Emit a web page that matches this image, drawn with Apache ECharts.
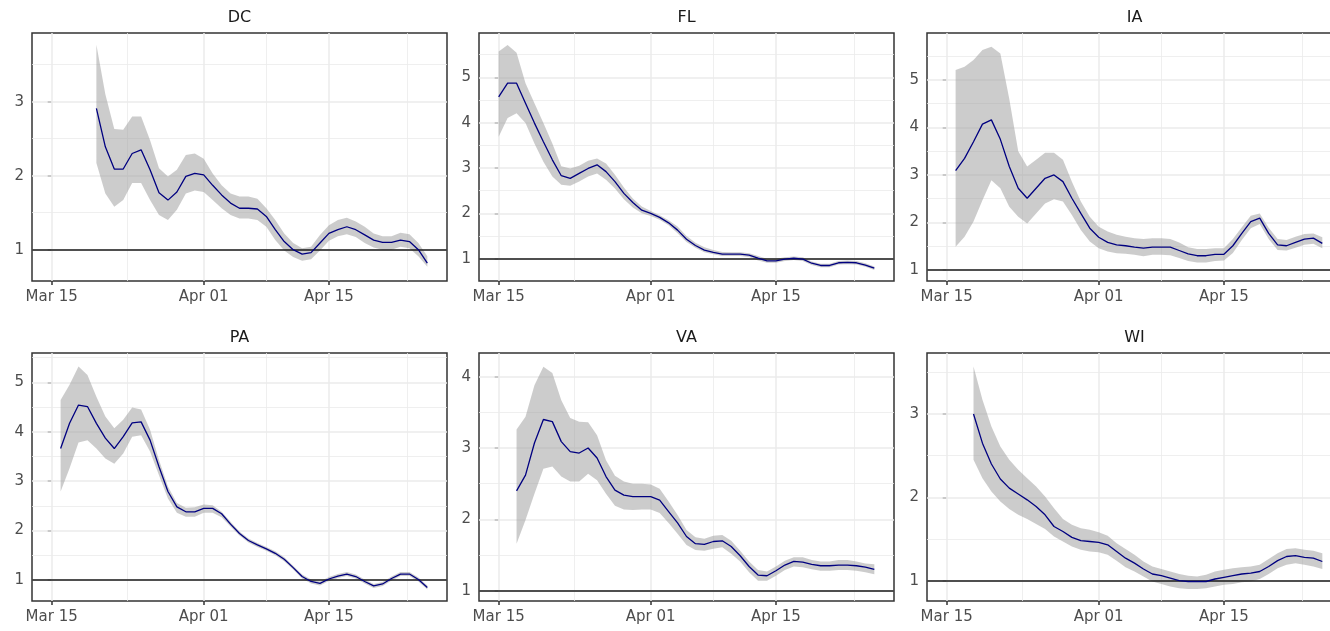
<!DOCTYPE html>
<html>
<head>
<meta charset="utf-8">
<script src="https://cdn.jsdelivr.net/npm/echarts@6/dist/echarts.min.js"></script>
<style>
    html, body { margin: 0; padding: 0; background: #fff; }
    #main { width: 1330px; height: 631px; }
</style>
</head>
<body>
<div id="main"></div>
<script>
// facets, first day of each series counted in days after Mar 15
var states = ['DC', 'FL', 'IA', 'PA', 'VA', 'WI'];
var startDay = [5, 0, 1, 1, 2, 3];

// x axis breaks (days after Mar 15)
var xTickDays = [0, 17, 31];
var xTickLabels = ['Mar 15', 'Apr 01', 'Apr 15'];
var xMinorDays = [8.5, 24, 39.7];

// DC
var dcMean = [2.91, 2.39, 2.09, 2.09, 2.30, 2.35, 2.08, 1.77, 1.67, 1.78, 1.99, 2.03, 2.01, 1.87, 1.74, 1.63, 1.56, 1.56, 1.55, 1.45, 1.27, 1.11, 1.00, 0.94, 0.96, 1.09, 1.22, 1.27, 1.31, 1.27, 1.20, 1.13, 1.10, 1.10, 1.13, 1.11, 1.00, 0.82];
var dcUpper = [3.77, 3.10, 2.63, 2.62, 2.80, 2.80, 2.48, 2.10, 1.99, 2.08, 2.28, 2.30, 2.23, 2.03, 1.87, 1.76, 1.72, 1.72, 1.69, 1.56, 1.40, 1.22, 1.09, 1.02, 1.04, 1.20, 1.33, 1.40, 1.43, 1.38, 1.31, 1.22, 1.18, 1.18, 1.23, 1.21, 1.09, 0.91];
var dcLower = [2.17, 1.76, 1.58, 1.67, 1.90, 1.90, 1.67, 1.47, 1.40, 1.54, 1.76, 1.80, 1.78, 1.67, 1.56, 1.47, 1.42, 1.42, 1.40, 1.31, 1.13, 0.99, 0.90, 0.85, 0.87, 0.99, 1.12, 1.18, 1.21, 1.17, 1.09, 1.03, 1.00, 1.00, 1.04, 1.02, 0.91, 0.77];
var dcTicks = [1, 2, 3];
var dcMinor = [1.5, 2.5, 3.5];

// FL
var flMean = [4.57, 4.87, 4.87, 4.43, 3.99, 3.58, 3.18, 2.83, 2.77, 2.88, 2.99, 3.07, 2.92, 2.70, 2.44, 2.24, 2.07, 2.00, 1.91, 1.79, 1.63, 1.43, 1.29, 1.19, 1.14, 1.10, 1.10, 1.10, 1.08, 1.01, 0.95, 0.95, 0.99, 1.01, 0.99, 0.90, 0.85, 0.85, 0.91, 0.92, 0.91, 0.86, 0.79];
var flUpper = [5.57, 5.71, 5.54, 4.87, 4.43, 3.99, 3.54, 3.04, 2.99, 3.05, 3.16, 3.21, 3.10, 2.85, 2.57, 2.33, 2.15, 2.05, 1.96, 1.85, 1.71, 1.50, 1.35, 1.25, 1.19, 1.15, 1.14, 1.14, 1.12, 1.06, 1.00, 1.00, 1.03, 1.05, 1.03, 0.94, 0.89, 0.89, 0.95, 0.96, 0.95, 0.90, 0.83];
var flLower = [3.69, 4.10, 4.21, 3.99, 3.54, 3.14, 2.81, 2.63, 2.61, 2.70, 2.81, 2.88, 2.74, 2.55, 2.31, 2.13, 2.00, 1.94, 1.86, 1.74, 1.56, 1.37, 1.24, 1.14, 1.10, 1.06, 1.06, 1.06, 1.04, 0.96, 0.91, 0.91, 0.95, 0.97, 0.95, 0.86, 0.81, 0.81, 0.87, 0.88, 0.87, 0.82, 0.75];
var flTicks = [1, 2, 3, 4, 5];
var flMinor = [1.5, 2.5, 3.5, 4.5, 5.5];

// IA
var iaMean = [3.09, 3.35, 3.70, 4.07, 4.16, 3.75, 3.18, 2.72, 2.51, 2.72, 2.93, 3.00, 2.86, 2.51, 2.19, 1.88, 1.69, 1.58, 1.53, 1.51, 1.48, 1.46, 1.48, 1.48, 1.48, 1.41, 1.34, 1.30, 1.30, 1.33, 1.33, 1.51, 1.77, 2.02, 2.09, 1.77, 1.53, 1.51, 1.58, 1.65, 1.67, 1.56];
var iaUpper = [5.21, 5.28, 5.42, 5.63, 5.70, 5.56, 4.60, 3.50, 3.18, 3.32, 3.47, 3.47, 3.32, 2.86, 2.44, 2.12, 1.91, 1.81, 1.74, 1.70, 1.67, 1.65, 1.67, 1.67, 1.65, 1.58, 1.48, 1.44, 1.44, 1.46, 1.46, 1.65, 1.90, 2.14, 2.19, 1.89, 1.65, 1.63, 1.70, 1.76, 1.77, 1.69];
var iaLower = [1.49, 1.70, 2.02, 2.47, 2.89, 2.72, 2.33, 2.12, 1.98, 2.19, 2.40, 2.49, 2.44, 2.16, 1.84, 1.60, 1.46, 1.39, 1.35, 1.34, 1.32, 1.29, 1.32, 1.32, 1.31, 1.25, 1.19, 1.16, 1.16, 1.19, 1.20, 1.36, 1.63, 1.88, 1.97, 1.65, 1.42, 1.41, 1.47, 1.53, 1.55, 1.46];
var iaTicks = [1, 2, 3, 4, 5];
var iaMinor = [1.5, 2.5, 3.5, 4.5, 5.5];

// PA
var paMean = [3.66, 4.17, 4.54, 4.51, 4.17, 3.87, 3.66, 3.90, 4.18, 4.20, 3.83, 3.29, 2.79, 2.48, 2.38, 2.38, 2.45, 2.45, 2.34, 2.13, 1.94, 1.80, 1.71, 1.63, 1.54, 1.42, 1.25, 1.07, 0.97, 0.93, 1.02, 1.08, 1.12, 1.07, 0.97, 0.88, 0.92, 1.03, 1.12, 1.12, 1.01, 0.85];
var paUpper = [4.64, 4.95, 5.32, 5.15, 4.71, 4.31, 4.07, 4.24, 4.49, 4.45, 4.04, 3.43, 2.89, 2.56, 2.46, 2.47, 2.53, 2.51, 2.38, 2.18, 1.98, 1.84, 1.75, 1.67, 1.58, 1.46, 1.29, 1.11, 1.01, 0.97, 1.06, 1.12, 1.16, 1.11, 1.01, 0.92, 0.96, 1.07, 1.16, 1.16, 1.05, 0.89];
var paLower = [2.79, 3.26, 3.78, 3.83, 3.66, 3.46, 3.35, 3.56, 3.90, 3.93, 3.60, 3.12, 2.65, 2.36, 2.28, 2.28, 2.36, 2.36, 2.27, 2.08, 1.90, 1.76, 1.67, 1.59, 1.50, 1.38, 1.21, 1.03, 0.93, 0.89, 0.98, 1.04, 1.08, 1.03, 0.93, 0.84, 0.88, 0.99, 1.08, 1.08, 0.97, 0.81];
var paTicks = [1, 2, 3, 4, 5];
var paMinor = [1.5, 2.5, 3.5, 4.5, 5.5];

// VA
var vaMean = [2.40, 2.62, 3.07, 3.40, 3.37, 3.09, 2.95, 2.93, 3.00, 2.86, 2.60, 2.41, 2.34, 2.32, 2.32, 2.32, 2.27, 2.11, 1.95, 1.76, 1.66, 1.65, 1.69, 1.70, 1.62, 1.49, 1.34, 1.22, 1.21, 1.28, 1.36, 1.41, 1.40, 1.37, 1.35, 1.35, 1.36, 1.36, 1.35, 1.33, 1.30];
var vaUpper = [3.26, 3.44, 3.88, 4.14, 4.05, 3.67, 3.42, 3.37, 3.36, 3.18, 2.83, 2.61, 2.53, 2.50, 2.50, 2.49, 2.43, 2.25, 2.06, 1.85, 1.75, 1.73, 1.77, 1.78, 1.70, 1.56, 1.41, 1.29, 1.27, 1.34, 1.42, 1.47, 1.47, 1.43, 1.41, 1.41, 1.43, 1.43, 1.41, 1.38, 1.37];
var vaLower = [1.66, 1.99, 2.36, 2.71, 2.74, 2.60, 2.53, 2.53, 2.64, 2.55, 2.36, 2.19, 2.14, 2.13, 2.14, 2.14, 2.09, 1.95, 1.80, 1.64, 1.57, 1.56, 1.59, 1.61, 1.52, 1.41, 1.26, 1.14, 1.14, 1.21, 1.29, 1.34, 1.33, 1.30, 1.28, 1.28, 1.29, 1.29, 1.28, 1.26, 1.23];
var vaTicks = [1, 2, 3, 4];
var vaMinor = [1.5, 2.5, 3.5];

// WI
var wiMean = [3.00, 2.65, 2.40, 2.22, 2.11, 2.04, 1.97, 1.89, 1.79, 1.65, 1.59, 1.52, 1.48, 1.47, 1.46, 1.43, 1.35, 1.27, 1.21, 1.14, 1.08, 1.06, 1.03, 1.00, 0.99, 0.99, 0.99, 1.02, 1.04, 1.06, 1.08, 1.09, 1.11, 1.17, 1.24, 1.29, 1.30, 1.28, 1.27, 1.23];
var wiUpper = [3.57, 3.17, 2.85, 2.61, 2.45, 2.33, 2.23, 2.13, 2.01, 1.87, 1.74, 1.67, 1.63, 1.61, 1.58, 1.54, 1.45, 1.38, 1.31, 1.23, 1.17, 1.14, 1.11, 1.08, 1.06, 1.05, 1.07, 1.11, 1.13, 1.15, 1.16, 1.17, 1.19, 1.26, 1.33, 1.38, 1.39, 1.37, 1.36, 1.33];
var wiLower = [2.45, 2.23, 2.07, 1.95, 1.86, 1.79, 1.74, 1.68, 1.62, 1.53, 1.47, 1.41, 1.37, 1.35, 1.34, 1.31, 1.24, 1.16, 1.11, 1.05, 0.99, 0.96, 0.93, 0.91, 0.90, 0.90, 0.91, 0.93, 0.95, 0.96, 0.98, 0.99, 1.02, 1.08, 1.15, 1.19, 1.21, 1.19, 1.17, 1.14];
var wiTicks = [1, 2, 3];
var wiMinor = [1.5, 2.5, 3.5];

// axis ranges of each facet (free y scales)
var yMin = [0.577, 0.508, 0.768, 0.575, 0.856, 0.756];
var yMax = [3.928, 5.977, 5.989, 5.593, 4.332, 3.732];
var refLine = 1;

var means = [dcMean, flMean, iaMean, paMean, vaMean, wiMean];
var uppers = [dcUpper, flUpper, iaUpper, paUpper, vaUpper, wiUpper];
var lowers = [dcLower, flLower, iaLower, paLower, vaLower, wiLower];
var yTicks = [dcTicks, flTicks, iaTicks, paTicks, vaTicks, wiTicks];
var yMinors = [dcMinor, flMinor, iaMinor, paMinor, vaMinor, wiMinor];

var chart = echarts.init(document.getElementById('main'));

var colLeft = [32, 479, 927];
var rowTop = [33, 353];
var panelW = 415;
var panelH = 248;
var font = 'DejaVu Sans';

var grids = [], xAxes = [], yAxes = [], titles = [], series = [];

// ribbon polygon, drawn once per facet through the axis scales
var makeRibbon = function (s0, lo, up) {
    return function (params, api) {
        if (params.dataIndex !== 0) {
            return null;
        }
        var pts = [];
        var k;
        for (k = 0; k < up.length; k++) {
            pts.push(api.coord([s0 + k, up[k]]));
        }
        for (k = lo.length - 1; k >= 0; k--) {
            pts.push(api.coord([s0 + k, lo[k]]));
        }
        return {
            type: 'polygon',
            shape: {points: pts},
            style: {fill: 'rgba(153,153,153,0.5)'}
        };
    };
};

states.forEach(function (name, i) {
    var left = colLeft[i % 3];
    var top = rowTop[Math.floor(i / 3)];

    // last column runs past the right edge of the picture, as in the original
    grids.push({
        left: left, top: top, width: panelW, height: panelH,
        show: true, borderColor: '#333333', borderWidth: 1.5,
        backgroundColor: 'transparent', containLabel: false,
        outerBoundsMode: 'none'
    });

    titles.push({
        text: name, left: left + panelW / 2, top: top - 23, textAlign: 'center', padding: 0,
        textStyle: {fontFamily: font, fontSize: 16, fontWeight: 'normal', color: '#1a1a1a'}
    });

    xAxes.push({
        gridIndex: i, type: 'value', min: -2.2, max: 44.2,
        axisLine: {show: false},
        splitLine: {show: false},
        axisTick: {show: true, customValues: xTickDays, length: 4, lineStyle: {color: '#333333', width: 1.5}},
        axisLabel: {
            customValues: xTickDays, margin: 9, color: '#4d4d4d', fontFamily: font, fontSize: 15,
            formatter: function (v) {
                var k = xTickDays.indexOf(v);
                return k < 0 ? '' : xTickLabels[k];
            }
        }
    });

    yAxes.push({
        gridIndex: i, type: 'value', min: yMin[i], max: yMax[i],
        axisLine: {show: false},
        splitLine: {show: false},
        axisTick: {show: true, customValues: yTicks[i], length: 4, lineStyle: {color: '#333333', width: 1.5}},
        axisLabel: {
            customValues: yTicks[i], margin: 8, color: '#4d4d4d', fontFamily: font, fontSize: 15,
            formatter: function (v) { return String(v); }
        }
    });

    // panel grid lines
    var gridLines = [];
    yTicks[i].forEach(function (v) { gridLines.push({yAxis: v, lineStyle: {width: 1.5}}); });
    yMinors[i].forEach(function (v) { gridLines.push({yAxis: v, lineStyle: {width: 0.8}}); });
    xTickDays.forEach(function (v) { gridLines.push({xAxis: v, lineStyle: {width: 1.5}}); });
    xMinorDays.forEach(function (v) { gridLines.push({xAxis: v, lineStyle: {width: 0.8}}); });

    var s0 = startDay[i];
    var lo = lowers[i], up = uppers[i], mn = means[i];

    // carrier for the grid lines (invisible line)
    series.push({
        type: 'line', xAxisIndex: i, yAxisIndex: i,
        data: lo.map(function (v, k) { return [s0 + k, v]; }),
        symbol: 'none', silent: true, z: 1,
        lineStyle: {opacity: 0},
        markLine: {
            silent: true, symbol: ['none', 'none'], z: 1, animation: false,
            label: {show: false},
            lineStyle: {color: '#ebebeb', type: 'solid'},
            emphasis: {disabled: true},
            data: gridLines
        }
    });
    series.push({
        type: 'custom', xAxisIndex: i, yAxisIndex: i, silent: true, z: 2,
        data: lo.map(function (v, k) { return [s0 + k, v, up[k]]; }),
        encode: {x: 0, y: [1, 2]},
        renderItem: makeRibbon(s0, lo, up)
    });
    series.push({
        type: 'line', xAxisIndex: i, yAxisIndex: i,
        data: mn.map(function (v, k) { return [s0 + k, v]; }),
        symbol: 'none', silent: true, z: 4,
        lineStyle: {color: '#000080', width: 1.3},
        markLine: {
            silent: true, symbol: ['none', 'none'], z: 3, animation: false,
            label: {show: false},
            emphasis: {disabled: true},
            lineStyle: {color: '#1a1a1a', width: 1.5, type: 'solid'},
            data: [{yAxis: refLine}]
        }
    });
});

chart.setOption({
    animation: false,
    backgroundColor: '#ffffff',
    title: titles,
    grid: grids,
    xAxis: xAxes,
    yAxis: yAxes,
    series: series
});
</script>
</body>
</html>
